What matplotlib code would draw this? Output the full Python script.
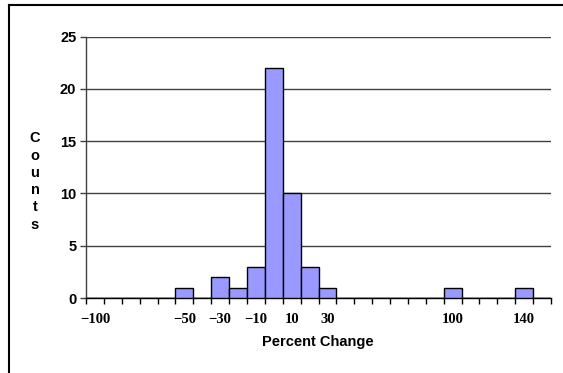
import matplotlib
matplotlib.use("Agg")
import matplotlib.pyplot as plt
from matplotlib.lines import Line2D

categories = list(range(-100, 160, 10))  # bins -100 .. 150
counts = [0, 0, 0, 0, 0, 1, 0, 2, 1, 3, 22, 10, 3, 1, 0, 0, 0, 0, 0, 0, 1, 0, 0, 0, 1, 0]
shown_labels = [-100, -50, -30, -10, 10, 30, 100, 140]
yticks = [0, 5, 10, 15, 20, 25]

fig = plt.figure(figsize=(5.63, 3.73), dpi=100)
ax = fig.add_axes([86/563, (373-298)/373, (551-86)/563, (298-36.7)/373])

n = len(categories)
pos = list(range(n))
ax.bar(pos, counts, width=1.0, color="#9999FF", edgecolor="black", linewidth=1.0, zorder=3)

ax.set_xlim(-0.5, n - 0.5)
ax.set_ylim(0, 25)

# gridlines
ax.set_yticks(yticks)
ax.yaxis.grid(True, color="#404040", linewidth=1.0, zorder=0)
ax.set_axisbelow(True)
ax.set_yticklabels([str(v) for v in yticks], fontfamily="Liberation Sans", fontweight="bold", fontsize=10.5)
ax.tick_params(axis="y", direction="out", length=4, width=1, color="#404040", pad=3)

# x ticks at category boundaries, labels at centres
ax.set_xticks([i - 0.5 for i in range(n + 1)])
ax.set_xticklabels([])
ax.tick_params(axis="x", which="major", direction="out", length=4, width=1, color="black")
label_pos = [categories.index(v) for v in shown_labels]
ax.set_xticks(label_pos, minor=True)
ax.set_xticklabels([("\u2212" + str(-v)) if v < 0 else str(v) for v in shown_labels], minor=True,
                   fontfamily="Liberation Serif", fontweight="bold", fontsize=10.5)
ax.tick_params(axis="x", which="minor", length=0, pad=11)

for s in ["top", "right"]:
    ax.spines[s].set_visible(False)
ax.spines["left"].set_color("#404040")
ax.spines["bottom"].set_color("black")
ax.spines["left"].set_linewidth(1.0)
ax.spines["bottom"].set_linewidth(1.0)

fig.text(318/563, (373-342)/373, "Percent Change", ha="center", va="center",
         fontfamily="Liberation Sans", fontweight="bold", fontsize=10.5)
fig.text(35/563, (373-181.5)/373, "C\no\nu\nn\nt\ns", ha="center", va="center",
         fontfamily="Liberation Sans", fontweight="bold", fontsize=10.5, linespacing=1.3)

# outer chart frame (top and left visible)
fig.add_artist(Line2D([9/563, 1.0], [1 - 5/373, 1 - 5/373], transform=fig.transFigure, color="black", linewidth=1.5))
fig.add_artist(Line2D([9/563, 9/563], [0.0, 1 - 5/373], transform=fig.transFigure, color="black", linewidth=1.5))

fig.savefig("out.png", dpi=100)
